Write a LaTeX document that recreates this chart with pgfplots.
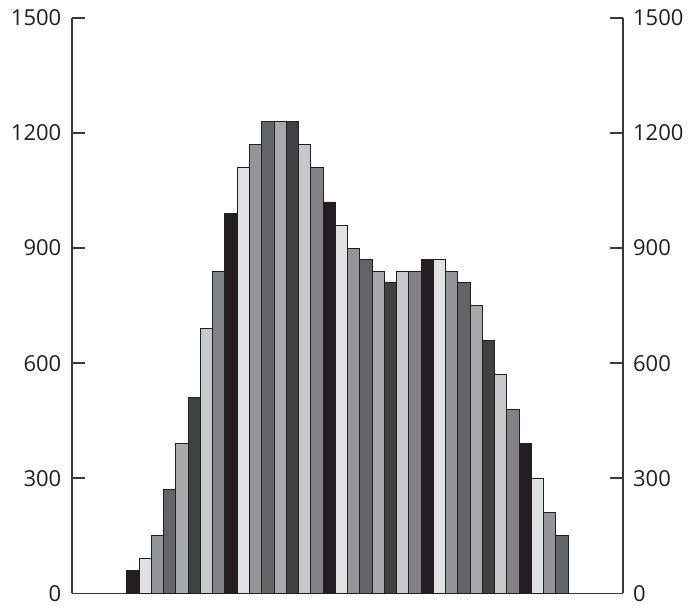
\documentclass[border=0pt]{standalone}
\usepackage{fontspec}
\setmainfont{Open Sans}
\usepackage{pgfplots}
\pgfplotsset{compat=1.18}
\definecolor{edge}{HTML}{231F20}
\definecolor{axisgray}{HTML}{3A3A3C}
\definecolor{ca}{HTML}{231F20}
\definecolor{cb}{HTML}{E0E1E3}
\definecolor{cc}{HTML}{939598}
\definecolor{cd}{HTML}{636466}
\definecolor{ce}{HTML}{A7A9AC}
\definecolor{cf}{HTML}{414042}
\definecolor{cg}{HTML}{C7C8CA}
\definecolor{ch}{HTML}{808285}
\pgfplotsset{
  base/.style={
    width=275.8pt, height=287.8pt, scale only axis,
    at={(35.85pt,6.3pt)}, anchor=south west,
    xmin=-4, xmax=41, ymin=0, ymax=1500,
    xtick=\empty, ytick={0,300,...,1500},
    tick align=inside, major tick length=6.6pt,
    axis line style={line width=0.9pt, color=axisgray},
    tick style={line width=0.9pt, color=axisgray},
    tick label style={font=\fontsize{11}{13}\selectfont, text=edge, inner sep=0.5pt},
    /pgf/number format/assume math mode=true,
    /pgf/number format/1000 sep={},
  },
  every axis plot/.append style={ybar, bar width=1, bar shift=0pt, draw=edge, line width=0.45pt},
}
\begin{document}
\begin{tikzpicture}
\useasboundingbox (0,0) rectangle (344pt,303pt);
\begin{axis}[base, axis y line*=left, axis x line*=bottom,
  yticklabel style={xshift=-4.5pt}]
\addplot[fill=ca] coordinates {(1,60) (9,990) (17,1020) (25,870) (33,390)};
\addplot[fill=cb] coordinates {(2,90) (10,1110) (18,960) (26,870) (34,300)};
\addplot[fill=cc] coordinates {(3,150) (11,1170) (19,900) (27,840) (35,210)};
\addplot[fill=cd] coordinates {(4,270) (12,1230) (20,870) (28,810) (36,150)};
\addplot[fill=ce] coordinates {(5,390) (13,1230) (21,840) (29,750)};
\addplot[fill=cf] coordinates {(6,510) (14,1230) (22,810) (30,660)};
\addplot[fill=cg] coordinates {(7,690) (15,1170) (23,840) (31,570)};
\addplot[fill=ch] coordinates {(8,840) (16,1110) (24,840) (32,480)};
\end{axis}
\begin{axis}[base, axis y line*=right, axis x line=none,
  yticklabel style={xshift=4.2pt}]
\addplot[draw=none, fill=none] coordinates {(0,0)};
\end{axis}
\end{tikzpicture}
\end{document}
